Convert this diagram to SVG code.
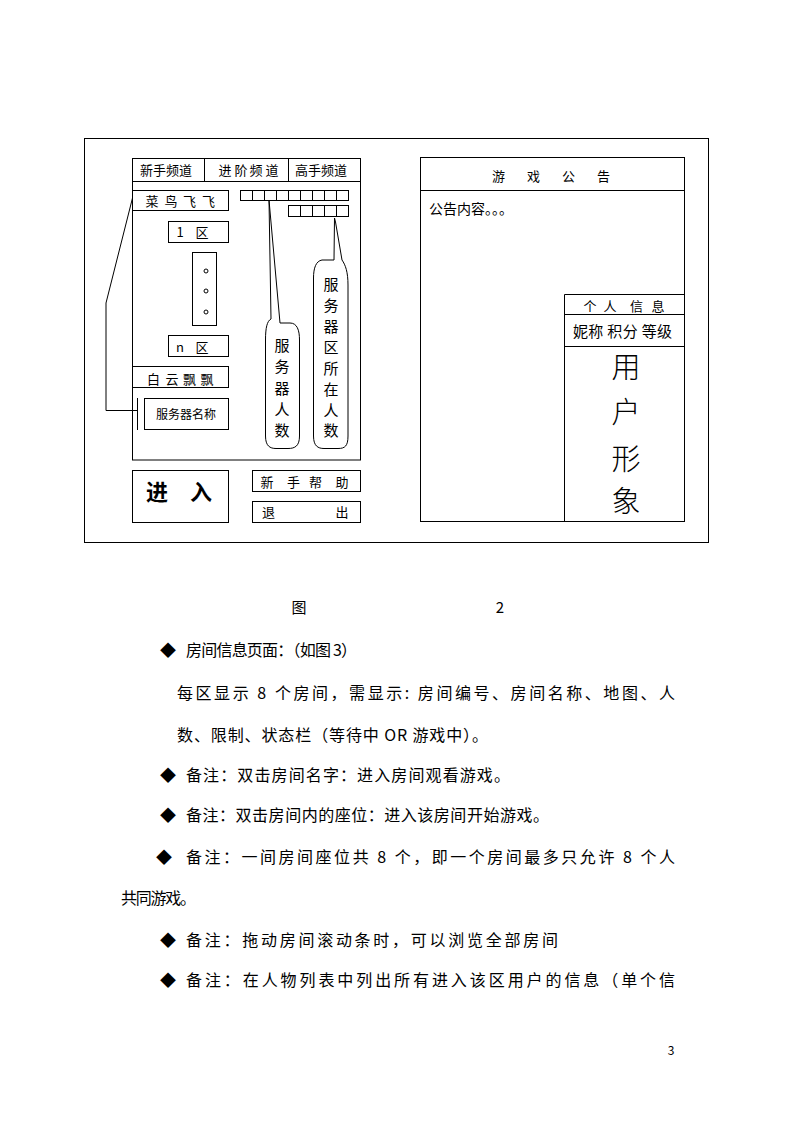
<svg xmlns="http://www.w3.org/2000/svg" width="794" height="1123" viewBox="0 0 794 1123">
<style>
.b{fill:none;stroke:#000;stroke-width:1}
.t{font-family:"Noto Sans CJK SC","Liberation Sans",sans-serif;fill:#000}
.s13{font-size:13px}
.s12{font-size:12px}
.s14{font-size:14px}
.s15{font-size:15px}
.s16{font-size:16px}
.m{text-anchor:middle}
</style>
<rect width="794" height="1123" fill="#fff"/>
<g id="frame"><rect class="b" x="84.5" y="138.5" width="624" height="404"/></g>

<g id="leftPanel">
<rect class="b" x="132.5" y="158.5" width="228" height="301.5"/>
<line class="b" x1="132.5" y1="181.5" x2="360.5" y2="181.5"/>
<line class="b" x1="204.5" y1="158.5" x2="204.5" y2="181.5"/>
<line class="b" x1="288.5" y1="158.5" x2="288.5" y2="181.5"/>
<text class="t s13 m" x="166" y="175">新手频道</text>
<text class="t s13 m" x="225 241 256 272" y="175">进阶频道</text>
<text class="t s13 m" x="321" y="175">高手频道</text>
</g>

<g id="server1"><rect class="b" x="132.5" y="190.5" width="96" height="20"/>
<text class="t s13 m" x="152 171 189.5 208.5" y="206">菜鸟飞飞</text></g>

<g id="squares1"><rect class="b" x="240.5" y="190.5" width="108" height="10"/>
<path class="b" d="M252.5 190.5V200.5M264.5 190.5V200.5M276.5 190.5V200.5M288.5 190.5V200.5M300.5 190.5V200.5M312.5 190.5V200.5M324.5 190.5V200.5M336.5 190.5V200.5"/></g>
<g id="squares2"><rect class="b" x="288.5" y="205.5" width="60" height="11"/>
<path class="b" d="M300.5 205.5V216.5M312.5 205.5V216.5M324.5 205.5V216.5M336.5 205.5V216.5"/></g>

<g id="zone1"><rect class="b" x="168.5" y="221.5" width="60" height="21"/>
<text class="t s13 m" x="180 202" y="237">1区</text></g>
<g id="dots"><rect class="b" x="192.5" y="252.5" width="24" height="73"/>
<circle class="b" cx="206" cy="271" r="2"/><circle class="b" cx="206" cy="291" r="2"/><circle class="b" cx="206" cy="312" r="2"/></g>
<g id="zoneN"><rect class="b" x="168.5" y="335.5" width="60" height="21"/>
<text class="t s13 m" x="180 202" y="352">n区</text></g>
<g id="server2"><rect class="b" x="132.5" y="366.5" width="96" height="21"/>
<text class="t s13 m" x="153.5 172 189.5 207" y="384">白云飘飘</text></g>
<g id="serverName"><rect class="b" x="144.5" y="398.5" width="84" height="31"/>
<text class="t s12 m" x="186" y="419">服务器名称</text></g>

<g id="enter"><rect class="b" x="132.5" y="470.5" width="96" height="52"/>
<text class="t m" style="font-size:22px;font-weight:bold" x="157 201" y="500">进入</text></g>
<g id="help"><rect class="b" x="252.5" y="470.5" width="108" height="21"/>
<text class="t s13 m" x="267 293.5 315.5 342" y="487">新手帮助</text></g>
<g id="exit"><rect class="b" x="252.5" y="501.5" width="108" height="21"/>
<text class="t s13 m" x="268.5 342" y="517">退出</text></g>

<g id="connectors">
<polyline class="b" points="132.5,198 106,303 106,410.5 137,410.5"/>
<line class="b" x1="137.5" y1="398" x2="137.5" y2="430"/>
<path class="b" d="M269 200 L271 319 C267 321 265.5 328 265.5 340 L265.5 436 C265.5 446 270 448.5 276 448.5 L288 448.5 C295 448.5 299.5 446 299.5 436 L299.5 340 C299.5 330 297 323 290 323 L280 323 Z"/>
<path class="b" d="M334.5 218 L334 260 L322 260 C316 261 313.5 268 313.5 278 L313.5 436 C313.5 446 318 448.5 324 448.5 L338 448.5 C345 448.5 348 446 348 436 L348 285 C348 272 345.5 265 342 260 L335.5 222 Z"/>
</g>

<g id="bubble1" class="t s15 m">
<text x="282" y="351">服</text><text x="282" y="372">务</text><text x="282" y="393.5">器</text><text x="282" y="415">人</text><text x="282" y="436">数</text>
</g>
<g id="bubble2" class="t s15 m">
<text x="331" y="290">服</text><text x="331" y="311">务</text><text x="331" y="332">器</text><text x="331" y="353">区</text><text x="331" y="373.5">所</text><text x="331" y="395">在</text><text x="331" y="415.5">人</text><text x="331" y="436">数</text>
</g>

<g id="notice">
<rect class="b" x="420.5" y="157.5" width="264" height="364"/>
<line class="b" x1="420.5" y1="190.5" x2="684.5" y2="190.5"/>
<text class="t s13 m" x="498.5 533.5 568.5 603.5" y="181">游戏公告</text>
<text class="t s14" x="429" y="214">公告内容。。。</text>
</g>

<g id="personal">
<path class="b" d="M564.5 294.5H684.5M564.5 314.5H684.5M564.5 346.5H684.5M564.5 294.5V521.5"/>
<text class="t s13 m" x="590 610 636.5 658" y="310.5">个人信息</text>
<text class="t s15" x="573" y="337" textLength="99" lengthAdjust="spacing">妮称 积分 等级</text>
<g class="t m" style="font-size:29px;font-weight:300">
<text x="626" y="378">用</text><text x="626" y="423">户</text><text x="626" y="470">形</text><text x="626" y="512">象</text>
</g>
</g>

<g id="body" class="t s16">
<text x="299" y="613" class="m s15">图</text>
<text x="500" y="613" class="m s15">2</text>
<text x="160" y="656">◆</text>
<text x="186" y="656" textLength="171" lengthAdjust="spacing">房间信息页面：（如图 3）</text>
<text x="177" y="699" textLength="498" lengthAdjust="spacing">每区显示 8 个房间，需显示: 房间编号、房间名称、地图、人</text>
<text x="177" y="741" textLength="311" lengthAdjust="spacing">数、限制、状态栏（等待中 OR 游戏中）。</text>
<text x="160" y="781">◆</text>
<text x="186" y="781" textLength="324" lengthAdjust="spacing">备注：双击房间名字：进入房间观看游戏。</text>
<text x="160" y="821">◆</text>
<text x="186" y="821" textLength="363" lengthAdjust="spacing">备注：双击房间内的座位：进入该房间开始游戏。</text>
<text x="156" y="863">◆</text>
<text x="186" y="863" textLength="489" lengthAdjust="spacing">备注：一间房间座位共 8 个，即一个房间最多只允许 8 个人</text>
<text x="121" y="904" textLength="75" lengthAdjust="spacing">共同游戏。</text>
<text x="160" y="946">◆</text>
<text x="186" y="946" textLength="372" lengthAdjust="spacing">备注：拖动房间滚动条时，可以浏览全部房间</text>
<text x="160" y="986">◆</text>
<text x="186" y="986" textLength="489" lengthAdjust="spacing">备注：在人物列表中列出所有进入该区用户的信息（单个信</text>
<text x="671" y="1055" class="m s12">3</text>
</g>
</svg>
